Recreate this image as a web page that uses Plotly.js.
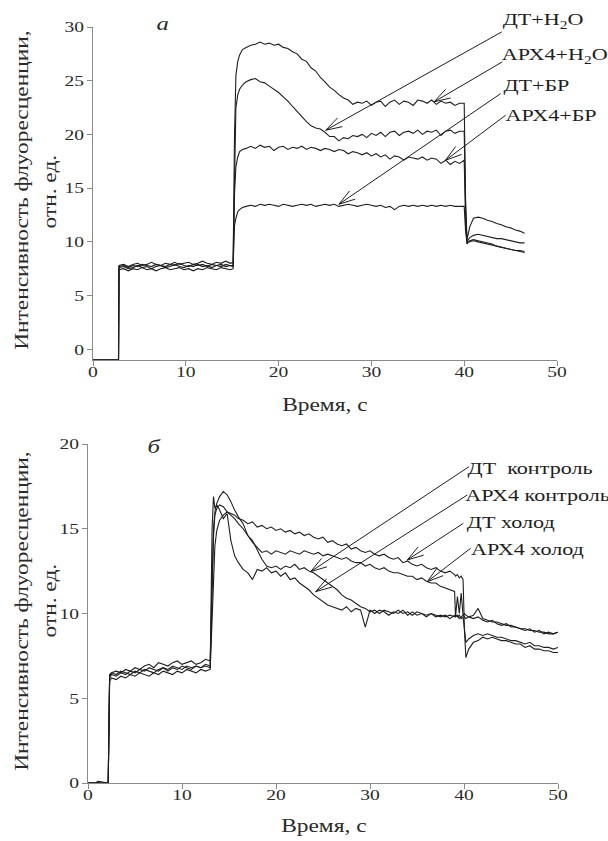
<!DOCTYPE html>
<html>
<head>
<meta charset="utf-8">
<script src="https://cdn.plot.ly/plotly-3.0.1.min.js"></script>
<style>
  html, body { margin: 0; padding: 0; background: #fff; }
  #chart { width: 608px; height: 841px; }
</style>
</head>
<body>
<div id="chart"></div>
<script>
// ---------- Panel "а": time axis and four fluorescence traces ----------
const timeA = [0, 2.75,
  2.8, 3.3, 3.8, 4.3, 4.8, 5.3, 5.8, 6.3, 6.8, 7.3, 7.8, 8.3, 8.8, 9.3, 9.8, 10.3, 10.8, 11.3, 11.8, 12.3, 12.8, 13.3, 13.8, 14.3, 14.8, 15.1,
  15.15, 15.25, 15.4, 15.6, 15.8, 16.1, 16.5,
  17, 17.5, 18, 18.5, 19, 19.5, 20, 20.5, 21, 21.5,
  22, 22.5, 23, 23.5, 24, 24.5, 25, 25.5, 26, 26.5,
  27, 27.5, 28, 28.5, 29, 29.5, 30, 30.5, 31, 31.5,
  32, 32.5, 33, 33.5, 34, 34.5, 35, 35.5, 36, 36.5,
  37, 37.5, 38, 38.5, 39, 39.5, 40,
  40.15, 40.3, 40.6,
  41, 41.5, 42, 42.5, 43, 43.5, 44, 44.5, 45, 45.5, 46, 46.5];

const arx4H2O = [-1, -1,
  7.8, 7.9, 7.7, 7.9, 8.0, 7.8, 7.9, 8.1, 7.9, 7.8, 8.0, 7.9, 8.1, 7.9, 8.0, 8.1, 7.9, 8.0, 8.2, 8.0, 7.9, 8.1, 8.0, 8.2, 8.0, 8.1,
  12, 20, 25.5, 26.8, 27.4, 27.9, 28.1,
  28.3, 28.4, 28.6, 28.4, 28.5, 28.3, 28.4, 28.1, 28.0, 27.7,
  27.5, 27.0, 26.8, 26.2, 25.9, 25.3, 24.9, 24.4, 24.1, 23.7,
  23.4, 23.2, 22.8, 23.0, 22.9, 23.1, 22.7, 23.0, 23.1, 22.6,
  23.0, 23.2, 22.8, 23.1, 23.0, 22.7, 23.2, 23.1, 22.9, 23.2,
  22.8, 23.1, 22.9, 23.0, 22.7, 22.9, 22.9,
  14, 10.2, 11.4,
  12.2, 12.3, 12.2, 12.0, 11.9, 11.7, 11.6, 11.4, 11.3, 11.1, 11.0, 10.8];

const dtH2O = [-1, -1,
  7.6, 7.7, 7.5, 7.6, 7.8, 7.6, 7.7, 7.5, 7.7, 7.8, 7.6, 7.7, 7.9, 7.7, 7.6, 7.8, 7.7, 7.9, 7.7, 7.8, 7.6, 7.8, 7.9, 7.7, 7.8, 7.8,
  11, 17.5, 22.5, 23.7, 24.2, 24.6, 24.9,
  25.1, 25.2, 24.9, 24.8, 24.5, 24.2, 23.9, 23.5, 23.1, 22.6,
  22.1, 21.7, 21.2, 20.8, 20.6, 20.5, 20.2, 19.8, 19.8, 19.4,
  19.7, 19.6, 19.9, 19.8, 20.0, 19.7, 20.1, 19.9, 20.2, 19.8,
  20.2, 20.3, 19.9, 20.2, 20.3, 20.1, 20.4, 20.0, 20.3, 20.2,
  20.4, 19.9, 20.3, 20.4, 20.1, 20.3, 20.3,
  13, 10.0, 10.4,
  10.6, 10.7, 10.6, 10.5, 10.4, 10.3, 10.3, 10.2, 10.1, 10.0, 9.9, 9.9];

const arx4BR = [-1, -1,
  7.4, 7.5, 7.3, 7.5, 7.4, 7.6, 7.4, 7.5, 7.3, 7.5, 7.6, 7.4, 7.5, 7.6, 7.4, 7.5, 7.3, 7.5, 7.4, 7.6, 7.5, 7.4, 7.6, 7.5, 7.4, 7.5,
  10, 14.5, 17.0, 17.9, 18.4, 18.6, 18.7,
  18.9, 18.7, 19.0, 18.8, 18.9, 18.5, 18.8, 18.9, 18.6, 18.8,
  18.7, 18.9, 18.6, 18.8, 18.7, 18.5, 18.7, 18.6, 18.4, 18.6,
  18.5, 18.2, 18.4, 18.3, 18.1, 18.3, 18.0, 18.2, 17.9, 18.1,
  17.7, 18.0, 17.9, 17.6, 17.9, 17.8, 17.7, 17.9, 17.6, 17.8,
  17.7, 17.3, 17.6, 17.2, 17.5, 17.3, 17.6,
  12, 9.8, 10.1,
  10.2, 10.1, 10.0, 9.9, 9.8, 9.6, 9.5, 9.4, 9.3, 9.2, 9.2, 9.1];

const dtBR = [-1, -1,
  7.7, 7.8, 7.6, 7.8, 7.7, 7.9, 7.8, 7.7, 7.9, 7.8, 7.7, 7.9, 7.8, 8.0, 7.8, 7.7, 7.9, 7.8, 7.9, 7.7, 7.9, 7.8, 7.7, 7.9, 7.8, 7.7,
  9, 11.5, 12.2, 12.8, 13.0, 13.2, 13.3,
  13.4, 13.3, 13.5, 13.4, 13.5, 13.4, 13.3, 13.5, 13.4, 13.3,
  13.4, 13.5, 13.4, 13.5, 13.3, 13.4, 13.5, 13.4, 13.5, 13.3,
  13.4, 13.5, 13.4, 13.3, 13.4, 13.5, 13.4, 13.3, 13.4, 13.2,
  13.3, 13.0, 13.3, 13.4, 13.3, 13.4, 13.3, 13.4, 13.3, 13.4,
  13.3, 13.4, 13.3, 13.4, 13.3, 13.3, 13.3,
  11, 9.9, 10.0,
  10.1, 10.0, 9.9, 9.8, 9.7, 9.6, 9.5, 9.4, 9.3, 9.2, 9.1, 9.0];

// ---------- Panel "б": time axis and four fluorescence traces ----------
const timeB = [0, 0.9, 1.0, 1.1, 2.15,
  2.3, 2.5, 3, 3.5, 4, 4.5, 5, 5.5, 6, 6.5, 7, 7.5, 8, 8.5, 9, 9.5, 10, 10.5, 11, 11.5, 12, 12.5, 13,
  13.2, 13.35, 13.5, 13.7, 14, 14.4, 14.8, 15.2, 15.6, 16, 16.5,
  17, 17.5, 18, 18.5, 19, 19.5, 20, 20.5, 21, 21.5,
  22, 22.5, 23, 23.5, 24, 24.5, 25, 25.5, 26, 26.5,
  27, 27.5, 28, 28.5, 29, 29.5, 30, 30.5, 31, 31.5,
  32, 32.5, 33, 33.5, 34, 34.5, 35, 35.5, 36, 36.5,
  37, 37.5, 38, 38.5, 39,
  39.1, 39.3, 39.5, 39.7, 39.9, 40.05, 40.2, 40.5,
  41, 41.5, 42, 42.5, 43, 43.5, 44, 44.5, 45, 45.5, 46, 46.5, 47, 47.5, 48, 48.5, 49, 49.5, 50];

const dtCold = [0, 0, 0.1, 0, 0,
  6.0, 6.2, 6.1, 6.3, 6.2, 6.4, 6.3, 6.5, 6.4, 6.3, 6.5, 6.4, 6.6, 6.5, 6.4, 6.6, 6.5, 6.7, 6.6, 6.5, 6.7, 6.6, 6.7,
  9.5, 12.5, 14.0, 14.9, 15.5, 15.8, 16.0, 15.9, 15.8, 15.6, 15.5,
  15.3, 15.4, 15.1, 15.2, 15.0, 15.1, 14.9, 15.0, 14.8, 14.9,
  14.7, 14.8, 14.6, 14.7, 14.5, 14.4, 14.5, 14.2, 14.3, 14.1,
  14.0, 14.1, 13.8, 13.9, 13.7, 13.6, 13.7, 13.5, 13.4, 13.5,
  13.3, 13.2, 13.3, 13.0, 13.1, 12.9, 12.8, 12.9, 12.7, 12.6,
  12.7, 12.5, 12.4, 12.5, 12.3,
  12.2, 12.3, 12.1, 12.2, 12.0, 9.0, 7.4, 7.9,
  8.3, 8.4, 8.6, 8.5, 8.6, 8.5, 8.4, 8.4, 8.3, 8.2, 8.2, 8.0, 8.1, 7.9, 7.9, 7.8, 7.8, 7.7, 7.7];

const arx4Cold = [0, 0, 0, 0.1, 0,
  6.2, 6.4, 6.3, 6.5, 6.4, 6.6, 6.5, 6.7, 6.6, 6.8, 6.7, 6.6, 6.8, 6.7, 6.9, 6.8, 6.7, 6.9, 6.8, 6.9, 6.8, 7.0, 6.9,
  11, 14.5, 15.8, 16.2, 16.4, 16.3, 16.0, 15.8, 15.6, 15.3, 15.0,
  14.6, 14.2, 13.9, 13.6, 13.7, 13.5, 13.7, 13.6, 13.5, 13.7,
  13.6, 13.5, 13.7, 13.6, 13.5, 13.6, 13.4, 13.5, 13.4, 13.3,
  13.2, 13.3, 13.1, 13.0, 13.0, 12.8, 12.9, 12.7, 12.6, 12.7,
  12.5, 12.4, 12.4, 12.3, 12.2, 12.2, 12.0, 12.1, 11.9, 11.8,
  11.8, 11.6, 11.5, 11.4, 11.3,
  9.8, 11.0, 10.0, 11.2, 9.9, 10.0, 9.9, 9.8,
  9.7, 9.8, 9.6, 9.5, 9.6, 9.4, 9.3, 9.4, 9.2, 9.2, 9.1, 9.0, 9.1, 8.9, 9.0, 8.8, 8.9, 8.8, 8.9];

const dtControl = [0, 0, 0, 0, 0,
  6.4, 6.5, 6.6, 6.5, 6.7, 6.6, 6.8, 6.7, 6.9, 7.0, 6.8, 7.1, 7.0, 6.9, 7.1, 7.2, 7.0, 7.1, 7.2, 7.0, 7.1, 7.3, 7.2,
  12, 15.0, 16.0, 16.5, 16.9, 17.2, 17.0, 16.6, 16.1, 15.7, 15.3,
  14.6, 14.3, 13.7, 13.2, 12.8, 12.7, 12.8, 12.6, 12.8, 12.7,
  12.9, 12.6, 12.7, 12.5, 12.4, 12.2, 12.0, 11.8, 11.6, 11.4,
  11.1, 10.9, 10.8, 10.6, 10.4, 10.3, 10.1, 10.2, 10.0, 10.2,
  10.1, 10.0, 10.2, 10.0, 10.1, 9.9, 10.1, 10.0, 9.9, 10.0,
  9.8, 9.9, 9.8, 9.9, 9.8,
  9.9, 9.8, 9.9, 9.7, 9.8, 9.0, 8.3, 8.5,
  8.7, 8.8, 8.7, 8.8, 8.7, 8.6, 8.6, 8.5, 8.4, 8.4, 8.3, 8.2, 8.3, 8.1, 8.1, 8.0, 8.0, 7.9, 8.0];

const arx4Control = [0, 0, 0, 0, 0,
  6.3, 6.5, 6.4, 6.6, 6.5, 6.4, 6.6, 6.5, 6.7, 6.6, 6.5, 6.7, 6.8, 6.6, 6.8, 6.7, 6.9, 6.8, 6.7, 6.9, 6.8, 6.9, 6.8,
  15, 16.9, 16.2, 16.4, 16.1, 15.6, 15.9, 14.3, 13.4, 13.0, 12.6,
  12.4, 12.0, 12.6, 12.5, 12.7, 12.4, 12.5, 12.2, 12.4, 12.0,
  12.1, 11.8, 11.6, 11.4, 11.1, 10.9, 10.7, 10.5, 10.4, 10.3,
  10.2, 10.4, 10.1, 10.3, 10.2, 9.2, 10.2, 10.0, 10.2, 10.1,
  9.9, 10.1, 10.0, 10.2, 9.9, 10.1, 9.9, 10.0, 9.8, 10.0,
  9.9, 9.8, 9.9, 9.7, 9.9,
  9.8, 9.9, 9.7, 9.8, 9.9, 9.8, 9.7, 9.8,
  9.9, 10.3, 9.7, 9.6, 9.5, 9.5, 9.4, 9.3, 9.3, 9.2, 9.1, 9.1, 9.0, 9.0, 8.9, 8.9, 8.8, 8.8, 8.9];

// Curve labels and their leader arrows: [text, label centre (px), arrow start (data), arrow tip (data)]
const labelsA = [
  ['ДТ+H<sub>2</sub>O',   [543, 21],  [44.04, 29.54], [25.08, 20.39]],
  ['АРХ4+H<sub>2</sub>O', [554, 56],  [44.10, 26.75], [36.75, 23.03]],
  ['ДТ+БР',               [536, 86],  [43.93, 23.80], [26.50, 13.50]],
  ['АРХ4+БР',             [551, 115], [44.47, 21.79], [38.00, 17.60]]
];
const labelsB = [
  ['ДТ\u00a0 контроль',   [530, 468], [40.53, 18.66], [23.69, 12.47]],
  ['АРХ4 контроль',       [537, 495], [40.35, 16.99], [24.22, 11.29]],
  ['ДТ холод',            [511, 522], [39.93, 15.32], [33.97, 13.16]],
  ['АРХ4 холод',          [527, 549], [40.71, 13.85], [36.10, 11.88]]
];

const xTicks = [0, 10, 20, 30, 40, 50];
const yTicksA = [0, 5, 10, 15, 20, 25, 30];
const yTicksB = [0, 5, 10, 15, 20];

// ---------- Layout geometry ----------
const W = 608, H = 841;
const FONT = 'Liberation Serif';
const INK = '#1e1e1e';
const AXIS = '#8a8a8a';
const TEXT = '#2a2a2a';

const domA = { x: [93 / W, 557 / W], y: [(H - 360) / H, (H - 27) / H] };
const domB = { x: [88 / W, 558 / W], y: [(H - 783) / H, (H - 444) / H] };
const rangeXA = [0, 50], rangeYA = [-1, 30];
const rangeXB = [0, 50], rangeYB = [0, 20];

function axisStyle(domain, range, ticks, anchor, isX) {
  const ax = {
    domain: domain, range: range, anchor: anchor,
    tickmode: 'array', tickvals: ticks, ticktext: ticks.map(String),
    ticks: 'outside', ticklen: 5, tickwidth: 1, tickcolor: AXIS,
    showline: true, linecolor: AXIS, linewidth: 1,
    showgrid: false, zeroline: false, fixedrange: true,
    tickfont: { family: FONT, size: 15, color: TEXT }
  };
  if (isX) ax.ticklabelstandoff = -7;
  return ax;
}

function trace(x, y, xa, ya) {
  return { x: x, y: y, xaxis: xa, yaxis: ya, type: 'scatter', mode: 'lines',
           line: { color: INK, width: 1.1 }, hoverinfo: 'skip' };
}

const data = [
  trace(timeA, arx4H2O, 'x', 'y'),
  trace(timeA, dtH2O, 'x', 'y'),
  trace(timeA, arx4BR, 'x', 'y'),
  trace(timeA, dtBR, 'x', 'y'),
  trace(timeB, dtCold, 'x2', 'y2'),
  trace(timeB, arx4Cold, 'x2', 'y2'),
  trace(timeB, dtControl, 'x2', 'y2'),
  trace(timeB, arx4Control, 'x2', 'y2')
];

const px = (p) => p / W;
const py = (p) => 1 - p / H;

function textAt(text, cx, cy, size, opts) {
  return Object.assign({
    text: text, xref: 'paper', yref: 'paper', x: px(cx), y: py(cy),
    xanchor: 'center', yanchor: 'middle', showarrow: false,
    font: { family: FONT, size: size, color: TEXT }
  }, opts || {});
}

// Leader line from the label to the curve, with an open "V" head at the tip
function leader(lab, xref, yref, dom, rx, ry) {
  const sx = (dom.x[1] - dom.x[0]) * W / (rx[1] - rx[0]);
  const sy = (dom.y[1] - dom.y[0]) * H / (ry[1] - ry[0]);
  const tail = lab[2], tip = lab[3];
  const line = { color: INK, width: 1 };
  const out = [{ type: 'line', xref: xref, yref: yref,
                 x0: tail[0], y0: tail[1], x1: tip[0], y1: tip[1], line: line }];
  // direction tip -> tail in screen pixels (y up)
  let ux = (tail[0] - tip[0]) * sx, uy = (tail[1] - tip[1]) * sy;
  const len = Math.hypot(ux, uy); ux /= len; uy /= len;
  const arm = 17, th = 17 * Math.PI / 180;
  [th, -th].forEach(a => {
    const dx = ux * Math.cos(a) - uy * Math.sin(a);
    const dy = ux * Math.sin(a) + uy * Math.cos(a);
    out.push({ type: 'line', xref: xref, yref: yref,
               xsizemode: 'pixel', ysizemode: 'pixel',
               xanchor: tip[0], yanchor: tip[1],
               x0: 0, y0: 0, x1: dx * arm, y1: dy * arm, line: line });
  });
  return out;
}

const annotations = [];
const shapes = [];
labelsA.forEach(l => {
  annotations.push(textAt(l[0], l[1][0], l[1][1], 17, { font: { family: FONT, size: 17, color: INK } }));
  leader(l, 'x', 'y', domA, rangeXA, rangeYA).forEach(s => shapes.push(s));
});
labelsB.forEach(l => {
  annotations.push(textAt(l[0], l[1][0], l[1][1], 17, { font: { family: FONT, size: 17, color: INK } }));
  leader(l, 'x2', 'y2', domB, rangeXB, rangeYB).forEach(s => shapes.push(s));
});

// Axis titles and panel letters
annotations.push(textAt('Время, с', 325, 405, 18));
annotations.push(textAt('Время, с', 324, 826, 18));
annotations.push(textAt('Интенсивность флуоресценции,', 22, 190, 18, { textangle: -90 }));
annotations.push(textAt('отн. ед.', 50, 192, 18, { textangle: -90 }));
annotations.push(textAt('Интенсивность флуоресценции,', 22, 611, 18, { textangle: -90 }));
annotations.push(textAt('отн. ед.', 50, 601, 18, { textangle: -90 }));
annotations.push(textAt('<i>а</i>', 163, 23, 19));
annotations.push(textAt('<i>б</i>', 154, 446, 19));

const layout = {
  width: W, height: H, margin: { l: 0, r: 0, t: 0, b: 0 },
  paper_bgcolor: '#fff', plot_bgcolor: 'rgba(0,0,0,0)',
  showlegend: false,
  xaxis: axisStyle(domA.x, rangeXA, xTicks, 'y', true),
  yaxis: axisStyle(domA.y, rangeYA, yTicksA, 'x', false),
  xaxis2: axisStyle(domB.x, rangeXB, xTicks, 'y2', true),
  yaxis2: axisStyle(domB.y, rangeYB, yTicksB, 'x2', false),
  annotations: annotations,
  shapes: shapes
};

// The type in this figure is a wide Times-style face; widen the serif glyphs to that proportion.
const STRETCH = 1.3;
Plotly.newPlot('chart', data, layout, { displayModeBar: false, staticPlot: true }).then(gd => {
  gd.querySelectorAll('text').forEach(t => {
    if (!t.textContent.trim()) return;
    const L = t.getComputedTextLength();
    if (L > 0) {
      t.setAttribute('textLength', (L * STRETCH).toFixed(1));
      t.setAttribute('lengthAdjust', 'spacingAndGlyphs');
    }
  });
});
</script>
</body>
</html>
